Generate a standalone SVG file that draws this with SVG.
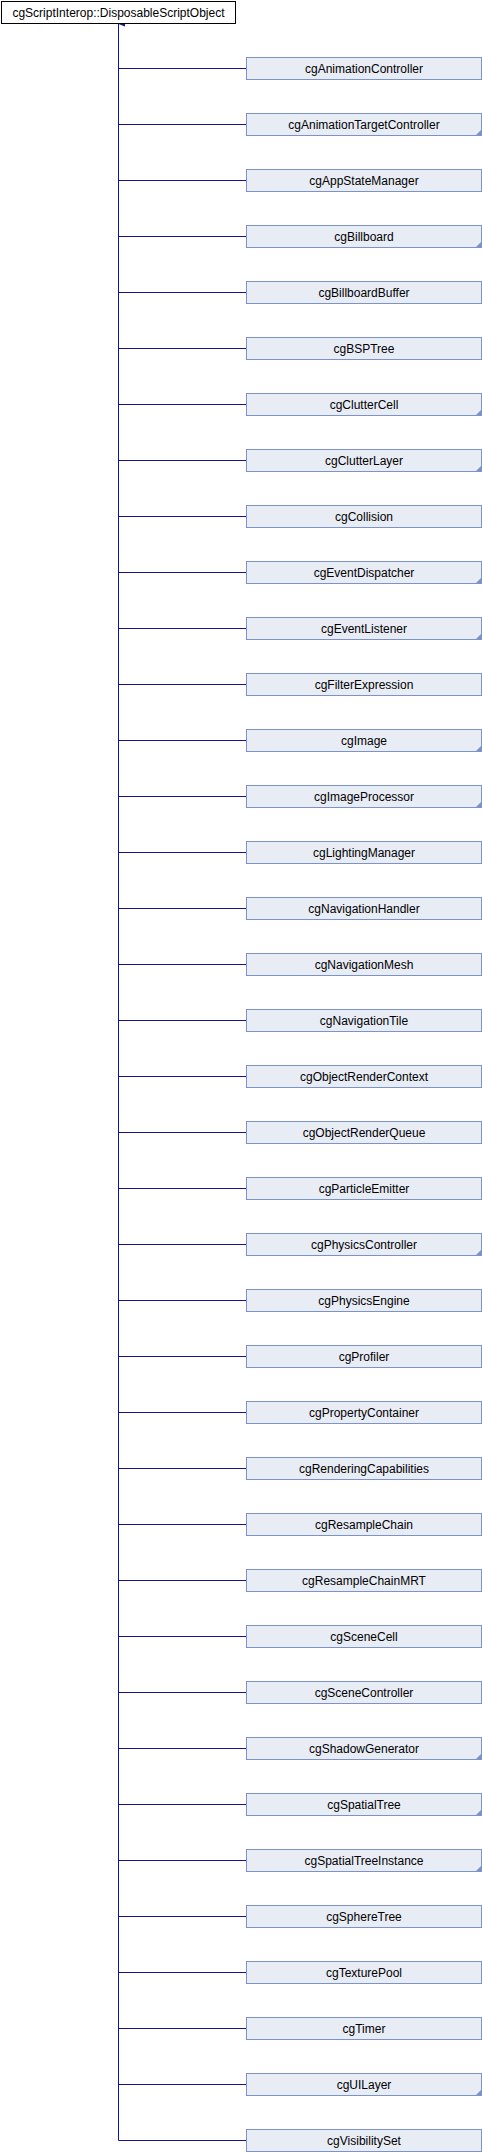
<svg xmlns="http://www.w3.org/2000/svg" width="482" height="2152" viewBox="0 0 482 2152">
<style>
.bg{fill:#ffffff}
.root rect{fill:#ffffff;stroke:#000000;stroke-width:1}
.node rect{fill:#e8ecf5;stroke:#7b93c9;stroke-width:1}
.node polygon{fill:#7b93c9}
text{font-family:"Liberation Sans",Arial,sans-serif;font-size:12px;fill:#000000;text-anchor:middle}
.edges line{stroke:#14148c;stroke-width:1;fill:none}
</style>
<defs>
<marker id="arr" markerWidth="6" markerHeight="7" refX="3" refY="0.5" orient="auto-start-reverse" markerUnits="userSpaceOnUse" viewBox="0 0 6 7">
<path d="M0.5,7 L3,0.5 L5.5,7 Z" fill="#14148c"/>
</marker>
</defs>
<rect class="bg" x="0" y="0" width="482" height="2152"/>
<g id="edges" class="edges">
<line x1="118.5" y1="2140.5" x2="118.5" y2="24" marker-end="url(#arr)"/>
<line x1="118.5" y1="68.5" x2="246" y2="68.5"/>
<line x1="118.5" y1="124.5" x2="246" y2="124.5"/>
<line x1="118.5" y1="180.5" x2="246" y2="180.5"/>
<line x1="118.5" y1="236.5" x2="246" y2="236.5"/>
<line x1="118.5" y1="292.5" x2="246" y2="292.5"/>
<line x1="118.5" y1="348.5" x2="246" y2="348.5"/>
<line x1="118.5" y1="404.5" x2="246" y2="404.5"/>
<line x1="118.5" y1="460.5" x2="246" y2="460.5"/>
<line x1="118.5" y1="516.5" x2="246" y2="516.5"/>
<line x1="118.5" y1="572.5" x2="246" y2="572.5"/>
<line x1="118.5" y1="628.5" x2="246" y2="628.5"/>
<line x1="118.5" y1="684.5" x2="246" y2="684.5"/>
<line x1="118.5" y1="740.5" x2="246" y2="740.5"/>
<line x1="118.5" y1="796.5" x2="246" y2="796.5"/>
<line x1="118.5" y1="852.5" x2="246" y2="852.5"/>
<line x1="118.5" y1="908.5" x2="246" y2="908.5"/>
<line x1="118.5" y1="964.5" x2="246" y2="964.5"/>
<line x1="118.5" y1="1020.5" x2="246" y2="1020.5"/>
<line x1="118.5" y1="1076.5" x2="246" y2="1076.5"/>
<line x1="118.5" y1="1132.5" x2="246" y2="1132.5"/>
<line x1="118.5" y1="1188.5" x2="246" y2="1188.5"/>
<line x1="118.5" y1="1244.5" x2="246" y2="1244.5"/>
<line x1="118.5" y1="1300.5" x2="246" y2="1300.5"/>
<line x1="118.5" y1="1356.5" x2="246" y2="1356.5"/>
<line x1="118.5" y1="1412.5" x2="246" y2="1412.5"/>
<line x1="118.5" y1="1468.5" x2="246" y2="1468.5"/>
<line x1="118.5" y1="1524.5" x2="246" y2="1524.5"/>
<line x1="118.5" y1="1580.5" x2="246" y2="1580.5"/>
<line x1="118.5" y1="1636.5" x2="246" y2="1636.5"/>
<line x1="118.5" y1="1692.5" x2="246" y2="1692.5"/>
<line x1="118.5" y1="1748.5" x2="246" y2="1748.5"/>
<line x1="118.5" y1="1804.5" x2="246" y2="1804.5"/>
<line x1="118.5" y1="1860.5" x2="246" y2="1860.5"/>
<line x1="118.5" y1="1916.5" x2="246" y2="1916.5"/>
<line x1="118.5" y1="1972.5" x2="246" y2="1972.5"/>
<line x1="118.5" y1="2028.5" x2="246" y2="2028.5"/>
<line x1="118.5" y1="2084.5" x2="246" y2="2084.5"/>
<line x1="118.5" y1="2140.5" x2="246" y2="2140.5"/>
</g>
<g id="n_root" class="root"><rect x="1.5" y="1.5" width="234" height="22"/><text x="118.5" y="16.5">cgScriptInterop::DisposableScriptObject</text></g>
<g id="n0" class="node"><rect x="246.5" y="57.5" width="235" height="22"/><text x="364" y="72.5">cgAnimationController</text></g>
<g id="n1" class="node"><rect x="246.5" y="113.5" width="235" height="22"/><polygon points="475,136 482,136 482,129"/><text x="364" y="128.5">cgAnimationTargetController</text></g>
<g id="n2" class="node"><rect x="246.5" y="169.5" width="235" height="22"/><text x="364" y="184.5">cgAppStateManager</text></g>
<g id="n3" class="node"><rect x="246.5" y="225.5" width="235" height="22"/><polygon points="475,248 482,248 482,241"/><text x="364" y="240.5">cgBillboard</text></g>
<g id="n4" class="node"><rect x="246.5" y="281.5" width="235" height="22"/><text x="364" y="296.5">cgBillboardBuffer</text></g>
<g id="n5" class="node"><rect x="246.5" y="337.5" width="235" height="22"/><text x="364" y="352.5">cgBSPTree</text></g>
<g id="n6" class="node"><rect x="246.5" y="393.5" width="235" height="22"/><polygon points="475,416 482,416 482,409"/><text x="364" y="408.5">cgClutterCell</text></g>
<g id="n7" class="node"><rect x="246.5" y="449.5" width="235" height="22"/><polygon points="475,472 482,472 482,465"/><text x="364" y="464.5">cgClutterLayer</text></g>
<g id="n8" class="node"><rect x="246.5" y="505.5" width="235" height="22"/><text x="364" y="520.5">cgCollision</text></g>
<g id="n9" class="node"><rect x="246.5" y="561.5" width="235" height="22"/><polygon points="475,584 482,584 482,577"/><text x="364" y="576.5">cgEventDispatcher</text></g>
<g id="n10" class="node"><rect x="246.5" y="617.5" width="235" height="22"/><polygon points="475,640 482,640 482,633"/><text x="364" y="632.5">cgEventListener</text></g>
<g id="n11" class="node"><rect x="246.5" y="673.5" width="235" height="22"/><text x="364" y="688.5">cgFilterExpression</text></g>
<g id="n12" class="node"><rect x="246.5" y="729.5" width="235" height="22"/><polygon points="475,752 482,752 482,745"/><text x="364" y="744.5">cgImage</text></g>
<g id="n13" class="node"><rect x="246.5" y="785.5" width="235" height="22"/><polygon points="475,808 482,808 482,801"/><text x="364" y="800.5">cgImageProcessor</text></g>
<g id="n14" class="node"><rect x="246.5" y="841.5" width="235" height="22"/><text x="364" y="856.5">cgLightingManager</text></g>
<g id="n15" class="node"><rect x="246.5" y="897.5" width="235" height="22"/><text x="364" y="912.5">cgNavigationHandler</text></g>
<g id="n16" class="node"><rect x="246.5" y="953.5" width="235" height="22"/><text x="364" y="968.5">cgNavigationMesh</text></g>
<g id="n17" class="node"><rect x="246.5" y="1009.5" width="235" height="22"/><text x="364" y="1024.5">cgNavigationTile</text></g>
<g id="n18" class="node"><rect x="246.5" y="1065.5" width="235" height="22"/><text x="364" y="1080.5">cgObjectRenderContext</text></g>
<g id="n19" class="node"><rect x="246.5" y="1121.5" width="235" height="22"/><text x="364" y="1136.5">cgObjectRenderQueue</text></g>
<g id="n20" class="node"><rect x="246.5" y="1177.5" width="235" height="22"/><text x="364" y="1192.5">cgParticleEmitter</text></g>
<g id="n21" class="node"><rect x="246.5" y="1233.5" width="235" height="22"/><polygon points="475,1256 482,1256 482,1249"/><text x="364" y="1248.5">cgPhysicsController</text></g>
<g id="n22" class="node"><rect x="246.5" y="1289.5" width="235" height="22"/><text x="364" y="1304.5">cgPhysicsEngine</text></g>
<g id="n23" class="node"><rect x="246.5" y="1345.5" width="235" height="22"/><text x="364" y="1360.5">cgProfiler</text></g>
<g id="n24" class="node"><rect x="246.5" y="1401.5" width="235" height="22"/><text x="364" y="1416.5">cgPropertyContainer</text></g>
<g id="n25" class="node"><rect x="246.5" y="1457.5" width="235" height="22"/><text x="364" y="1472.5">cgRenderingCapabilities</text></g>
<g id="n26" class="node"><rect x="246.5" y="1513.5" width="235" height="22"/><text x="364" y="1528.5">cgResampleChain</text></g>
<g id="n27" class="node"><rect x="246.5" y="1569.5" width="235" height="22"/><text x="364" y="1584.5">cgResampleChainMRT</text></g>
<g id="n28" class="node"><rect x="246.5" y="1625.5" width="235" height="22"/><text x="364" y="1640.5">cgSceneCell</text></g>
<g id="n29" class="node"><rect x="246.5" y="1681.5" width="235" height="22"/><text x="364" y="1696.5">cgSceneController</text></g>
<g id="n30" class="node"><rect x="246.5" y="1737.5" width="235" height="22"/><polygon points="475,1760 482,1760 482,1753"/><text x="364" y="1752.5">cgShadowGenerator</text></g>
<g id="n31" class="node"><rect x="246.5" y="1793.5" width="235" height="22"/><polygon points="475,1816 482,1816 482,1809"/><text x="364" y="1808.5">cgSpatialTree</text></g>
<g id="n32" class="node"><rect x="246.5" y="1849.5" width="235" height="22"/><polygon points="475,1872 482,1872 482,1865"/><text x="364" y="1864.5">cgSpatialTreeInstance</text></g>
<g id="n33" class="node"><rect x="246.5" y="1905.5" width="235" height="22"/><text x="364" y="1920.5">cgSphereTree</text></g>
<g id="n34" class="node"><rect x="246.5" y="1961.5" width="235" height="22"/><text x="364" y="1976.5">cgTexturePool</text></g>
<g id="n35" class="node"><rect x="246.5" y="2017.5" width="235" height="22"/><text x="364" y="2032.5">cgTimer</text></g>
<g id="n36" class="node"><rect x="246.5" y="2073.5" width="235" height="22"/><polygon points="475,2096 482,2096 482,2089"/><text x="364" y="2088.5">cgUILayer</text></g>
<g id="n37" class="node"><rect x="246.5" y="2129.5" width="235" height="22"/><text x="364" y="2144.5">cgVisibilitySet</text></g>
</svg>
